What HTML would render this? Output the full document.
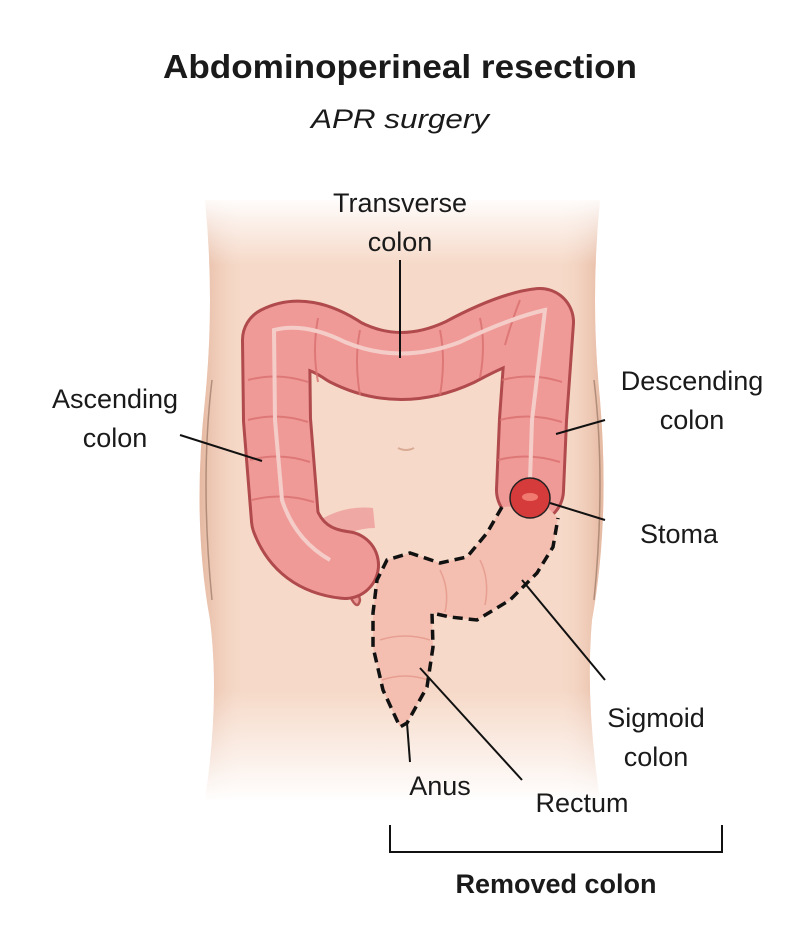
<!DOCTYPE html>
<html><head><meta charset="utf-8"><style>
body{margin:0;background:#fff;}
svg{display:block}
text{font-family:"Liberation Sans",sans-serif;fill:#1a1a1a}
</style></head><body>
<svg width="800" height="943" viewBox="0 0 800 943" xmlns="http://www.w3.org/2000/svg">
<defs>
<linearGradient id="sk" x1="0" y1="0" x2="0" y2="1">
<stop offset="0" stop-color="#fff"/>
<stop offset="0.12" stop-color="#f8e2d5"/>
<stop offset="0.75" stop-color="#f6d8c6"/>
<stop offset="1" stop-color="#fff"/>
</linearGradient>
<linearGradient id="skh" x1="0" y1="0" x2="1" y2="0">
<stop offset="0" stop-color="#e3b49c" stop-opacity="0.9"/>
<stop offset="0.12" stop-color="#f7dccb" stop-opacity="0"/>
<stop offset="0.88" stop-color="#f7dccb" stop-opacity="0"/>
<stop offset="1" stop-color="#e3b49c" stop-opacity="0.9"/>
</linearGradient>
<linearGradient id="fade" x1="0" y1="0" x2="0" y2="1">
<stop offset="0" stop-color="#fff" stop-opacity="0"/>
<stop offset="1" stop-color="#fff" stop-opacity="1"/>
</linearGradient>
<linearGradient id="fadet" x1="0" y1="0" x2="0" y2="1">
<stop offset="0" stop-color="#fff" stop-opacity="1"/>
<stop offset="1" stop-color="#fff" stop-opacity="0"/>
</linearGradient>
</defs>
<text x="400" y="78" font-size="33" font-weight="bold" text-anchor="middle" textLength="474" lengthAdjust="spacingAndGlyphs">Abdominoperineal resection</text>
<text x="400" y="128" font-size="27" font-style="italic" text-anchor="middle" textLength="178" lengthAdjust="spacingAndGlyphs">APR surgery</text>
<!-- torso -->
<path d="M205 200 L600 200 Q590 300 600 400 Q610 520 592 620 Q585 700 600 800 L205 800 Q220 700 210 620 Q192 520 205 400 Q215 300 205 200Z" fill="#f6d9c8"/>
<path d="M205 200 Q215 300 205 400 Q192 520 210 620 Q220 700 205 800 L600 800 Q585 700 592 620 Q610 520 600 400 Q590 300 600 200Z" fill="url(#skh)"/>
<path d="M212 380 Q200 480 212 600" stroke="#8a6a5a" stroke-width="1.5" fill="none" opacity="0.6"/>
<path d="M594 380 Q606 480 594 600" stroke="#8a6a5a" stroke-width="1.5" fill="none" opacity="0.6"/>
<rect x="190" y="195" width="430" height="70" fill="url(#fadet)"/>
<rect x="190" y="690" width="430" height="112" fill="url(#fade)"/>
<path d="M398 448 Q406 452 414 448" stroke="#d9ab95" stroke-width="2" fill="none"/>
<!-- appendix stub / tail -->
<path d="M330 520 Q340 560 352 600 Q358 610 360 600 Q350 560 345 525Z" fill="#ec9a98" stroke="#b75454" stroke-width="2.5"/>
<path d="M320 520 Q345 505 373 508 L375 528 Q350 528 330 545Z" fill="#f0a8a4"/>
<!-- main colon -->
<path d="M345 565 Q300 560 285 520 L277 420 L276 340 Q305 325 345 352 Q400 380 460 352 Q510 325 540 322 L533 420 L530 490" fill="none" stroke="#b04a4c" stroke-width="70" stroke-linejoin="round" stroke-linecap="round"/>
<path d="M345 565 Q300 560 285 520 L277 420 L276 340 Q305 325 345 352 Q400 380 460 352 Q510 325 540 322 L533 420 L530 490" fill="none" stroke="#f09a98" stroke-width="64" stroke-linejoin="round" stroke-linecap="round"/>
<g stroke="#d9706f" stroke-width="2" fill="none" opacity="0.8">
<path d="M248 380 Q278 372 308 382"/><path d="M248 420 Q278 412 308 422"/><path d="M250 460 Q280 452 310 462"/><path d="M252 500 Q282 492 314 502"/>
<path d="M318 318 Q312 350 318 382"/><path d="M360 330 Q354 360 360 395"/><path d="M440 330 Q446 360 440 395"/><path d="M480 318 Q486 345 480 378"/><path d="M520 300 Q512 320 505 345"/>
<path d="M502 380 Q532 372 562 382"/><path d="M500 420 Q530 412 562 422"/><path d="M498 460 Q528 452 560 462"/>
</g>
<path d="M330 560 Q295 540 282 500 L275 420 L274 330 Q305 322 345 342 Q400 365 460 342 Q510 318 545 310 L532 420 L530 480" fill="none" stroke="#f5cdc8" stroke-width="4"/>
<!-- removed region -->
<path d="M502 507 L487 533 L467 557 L440 563 L410 553 L387 560 L377 580 L373 613 L373 647 L383 690 L400 727 L407 723 L427 687 L433 647 L432 613 L450 617 L477 620 L510 600 L537 573 L553 547 L558 518 L545 505 Z" fill="#f4bfb0"/>
<g stroke="#e79f92" stroke-width="1.5" fill="none">
<path d="M440 570 Q450 590 445 612"/><path d="M480 560 Q490 580 485 605"/><path d="M380 640 Q405 632 430 640"/><path d="M382 680 Q405 672 428 680"/>
</g>
<path d="M502 507 L487 533 L467 557 L440 563 L410 553 L387 560 L377 580 L373 613 L373 647 L383 690 L400 727 L407 723 L427 687 L433 647 L432 613 L450 617 L477 620 L510 600 L537 573 L553 547 L558 518" fill="none" stroke="#111" stroke-width="3.5" stroke-dasharray="10,6"/>
<!-- stoma -->
<circle cx="530" cy="498" r="20" fill="#d63b3b" stroke="#222" stroke-width="1.5"/>
<ellipse cx="530" cy="497" rx="8" ry="4" fill="#f07a70"/>
<!-- leader lines -->
<g stroke="#111" stroke-width="2">
<line x1="400" y1="260" x2="400" y2="358"/>
<line x1="180" y1="435" x2="262" y2="461"/>
<line x1="605" y1="420" x2="556" y2="434"/>
<line x1="550" y1="503" x2="605" y2="520"/>
<line x1="522" y1="580" x2="605" y2="680"/>
<line x1="420" y1="668" x2="522" y2="780"/>
<line x1="407" y1="723" x2="410" y2="762"/>
<path d="M390 825 V852 H722 V825" fill="none"/>
</g>
<g font-size="27">
<text x="400" y="212" text-anchor="middle">Transverse</text>
<text x="400" y="251" text-anchor="middle">colon</text>
<text x="115" y="408" text-anchor="middle">Ascending</text>
<text x="115" y="447" text-anchor="middle">colon</text>
<text x="692" y="390" text-anchor="middle">Descending</text>
<text x="692" y="429" text-anchor="middle">colon</text>
<text x="640" y="543">Stoma</text>
<text x="656" y="727" text-anchor="middle">Sigmoid</text>
<text x="656" y="766" text-anchor="middle">colon</text>
<text x="440" y="795" text-anchor="middle">Anus</text>
<text x="582" y="812" text-anchor="middle">Rectum</text>
<text x="556" y="893" text-anchor="middle" font-weight="bold">Removed colon</text>
</g>
</svg>
</body></html>
